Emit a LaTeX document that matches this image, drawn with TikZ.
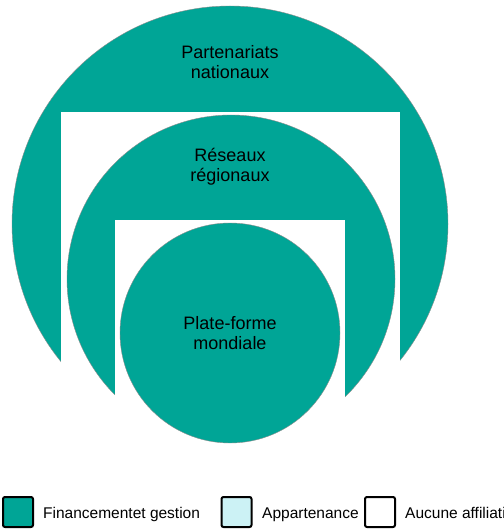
\documentclass[tikz,border=0pt]{standalone}
\usepackage{fontspec}
\setmainfont{Liberation Sans}
\definecolor{teal}{HTML}{00A596}
\definecolor{paleblue}{HTML}{CCF2F5}
\tikzset{
  disc/.style={circle, fill=teal, draw=black!45, line width=0.4pt, inner sep=0pt},
  cutout/.style={fill=white, draw=none},
  label/.style={align=center, font=\fontsize{18}{20}\selectfont, text=black},
  keybox/.style={draw=black, line width=2pt, rounded corners=2pt, minimum width=30pt, minimum height=30pt, inner sep=0pt},
  keytext/.style={anchor=base west, inner sep=0pt, font=\fontsize{15.5}{18}\selectfont}
}
\begin{document}
\begin{tikzpicture}[x=1pt, y=-1pt]
  \clip (0,0) rectangle (503,529);
  \fill[white] (0,0) rectangle (503,529);

  % outer ring: national partnerships
  \node[disc, minimum size=436pt] (outer) at (230,224) {};
  \fill[cutout] (61,112) rectangle (400,460);

  % middle ring: regional networks
  \node[disc, minimum size=328pt] (middle) at (231,279) {};
  \fill[cutout] (115,220) rectangle (345,460);

  % core: global platform
  \node[disc, minimum size=220pt] (inner) at (230,333) {};

  \node[label] (tnat) at (230,62) {Partenariats\\nationaux};
  \node[label] (treg) at (230,167) {Réseaux\\régionaux};
  \node[label] (tglob) at (230,333) {Plate-forme\\mondiale};

  % key
  \node[keybox, fill=teal] (k1) at (18,512) {};
  \node[keytext] (k1t) at (43,518) {Financementet gestion};
  \node[keybox, fill=paleblue] (k2) at (236.5,512) {};
  \node[keytext] (k2t) at (262,518) {Appartenance};
  \node[keybox, fill=white] (k3) at (380,512) {};
  \node[keytext] (k3t) at (405,518) {Aucune affiliation};
\end{tikzpicture}
\end{document}
